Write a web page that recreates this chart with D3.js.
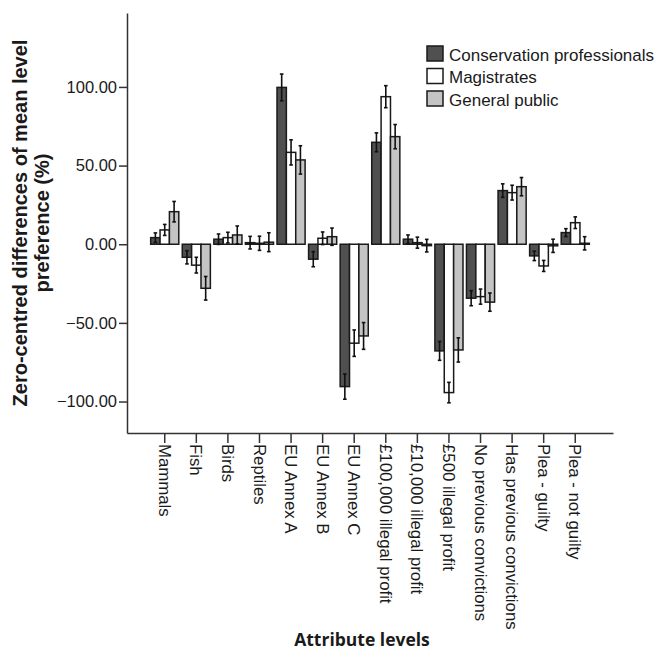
<!DOCTYPE html>
<html>
<head>
<meta charset="utf-8">
<script src="https://cdn.jsdelivr.net/npm/d3@7"></script>
<style>
  html, body { margin: 0; padding: 0; background: #fff; }
  svg { display: block; }
  text { font-family: "Liberation Sans", Arial, sans-serif; fill: #1a1a1a; }
</style>
</head>
<body>
<svg id="chart" width="654" height="653"></svg>
<script>
// Attribute levels on the x axis
const categories = [
  "Mammals", "Fish", "Birds", "Reptiles",
  "EU Annex A", "EU Annex B", "EU Annex C",
  "£100,000 illegal profit", "£10,000 illegal profit", "£500 illegal profit",
  "No previous convictions", "Has previous convictions",
  "Plea - guilty", "Plea - not guilty"
];

// Respondent groups
const groups = ["Conservation professionals", "Magistrates", "General public"];

// Zero-centred differences of mean level preference (%) per group
const conservation = [4.2, -8.3, 3.2, 1.0, 99.7, -9.5, -90.5, 64.8, 3.2, -67.8, -34.3, 34.1, -7.4, 7.4];
const magistrates  = [9.1, -13.3, 4.2, 0.6, 58.4, 3.8, -62.9, 93.8, 1.0, -94.3, -33.3, 32.8, -13.8, 13.7];
const generalPublic = [20.7, -28.0, 5.9, 1.3, 53.6, 4.8, -58.3, 68.4, -0.9, -67.2, -36.8, 36.6, -1.0, 0.6];

// Error bar half-widths (same units)
const conservationErr = [3.0, 4.2, 3.3, 4.0, 8.5, 4.8, 8.0, 6.0, 2.7, 6.0, 4.8, 4.3, 3.0, 2.5];
const magistratesErr  = [3.5, 5.0, 3.4, 4.5, 8.0, 4.0, 8.4, 7.0, 3.5, 6.5, 4.8, 4.7, 3.5, 3.7];
const generalPublicErr = [6.5, 7.5, 5.7, 6.0, 9.0, 5.5, 8.5, 7.7, 4.0, 7.7, 5.8, 5.8, 4.2, 4.2];

// Y axis ticks
const yTicks = [-100, -50, 0, 50, 100];

const seriesValues = [conservation, magistrates, generalPublic];
const seriesErrors = [conservationErr, magistratesErr, generalPublicErr];
const fills = ["#505050", "#ffffff", "#c4c4c4"];

const rows = [];
categories.forEach((c, i) => {
  groups.forEach((g, j) => {
    rows.push({ category: c, group: g, value: seriesValues[j][i], err: seriesErrors[j][i] });
  });
});

const svg = d3.select("#chart");
const plot = { left: 127, right: 613, top: 13, bottom: 433 };

const x = d3.scaleBand()
  .domain(categories)
  .range([plot.left, plot.right])
  .paddingInner(0.11)
  .paddingOuter(0.75);

const xSub = d3.scaleBand()
  .domain(groups)
  .range([0, x.bandwidth()])
  .padding(0);

const y = d3.scaleLinear()
  .domain([-120, 147])
  .range([plot.bottom, plot.top]);

const color = d3.scaleOrdinal().domain(groups).range(fills);

// Bars
const barG = svg.append("g");
barG.selectAll("rect")
  .data(rows)
  .join("rect")
  .attr("x", d => x(d.category) + xSub(d.group))
  .attr("width", xSub.bandwidth())
  .attr("y", d => Math.min(y(d.value), y(0)))
  .attr("height", d => Math.abs(y(d.value) - y(0)))
  .attr("fill", d => color(d.group))
  .attr("stroke", "#1a1a1a")
  .attr("stroke-width", 1.5);

// Error bars
const errG = svg.append("g").attr("stroke", "#111").attr("stroke-width", 1.6);
rows.forEach(d => {
  const cx = x(d.category) + xSub(d.group) + xSub.bandwidth() / 2;
  const y1 = y(d.value + d.err), y2 = y(d.value - d.err);
  errG.append("line").attr("x1", cx).attr("x2", cx).attr("y1", y1).attr("y2", y2);
  errG.append("line").attr("x1", cx - 1.8).attr("x2", cx + 1.8).attr("y1", y1).attr("y2", y1);
  errG.append("line").attr("x1", cx - 1.8).attr("x2", cx + 1.8).attr("y1", y2).attr("y2", y2);
});

// Y axis
const yAxis = svg.append("g")
  .attr("transform", `translate(${plot.left},0)`)
  .call(d3.axisLeft(y).tickValues(yTicks).tickFormat(d3.format(".2f")).tickSize(8).tickPadding(2).tickSizeOuter(0));
yAxis.select(".domain").attr("stroke", "#333").attr("stroke-width", 1.5);
yAxis.selectAll(".tick line").attr("stroke", "#333").attr("stroke-width", 1.5);
yAxis.selectAll(".tick text").attr("font-size", 16.5).attr("font-family", "Liberation Sans, Arial, sans-serif").attr("fill", "#1a1a1a");

// X axis
const xAxis = svg.append("g")
  .attr("transform", `translate(0,${plot.bottom})`)
  .call(d3.axisBottom(x).tickSize(10).tickSizeOuter(0));
xAxis.select(".domain").attr("stroke", "#333").attr("stroke-width", 1.5);
xAxis.selectAll(".tick line").attr("stroke", "#333").attr("stroke-width", 1.5);
xAxis.selectAll(".tick text")
  .attr("font-size", 16.8)
  .attr("font-family", "Liberation Sans, Arial, sans-serif")
  .attr("fill", "#1a1a1a")
  .attr("transform", "rotate(90)")
  .attr("text-anchor", "start")
  .attr("x", 11)
  .attr("y", 0)
  .attr("dy", "0.35em");

// Y axis title (two lines)
const yTitle = svg.append("text")
  .attr("transform", `translate(27,223) rotate(-90)`)
  .attr("text-anchor", "middle")
  .attr("font-size", 20)
  .attr("font-weight", "bold");
yTitle.append("tspan").attr("x", 0).attr("y", 0).text("Zero-centred differences of mean level");
yTitle.append("tspan").attr("x", 0).attr("y", 22).text("preference (%)");

// X axis title
svg.append("text")
  .attr("x", 362)
  .attr("y", 646)
  .attr("text-anchor", "middle")
  .attr("font-size", 17.5)
  .attr("font-weight", "bold")
  .style("font-family", "'Open Sans', sans-serif")
  .text("Attribute levels");

// Legend
const legend = svg.append("g").attr("transform", "translate(427,46)");
groups.forEach((g, i) => {
  const row = legend.append("g").attr("transform", `translate(0,${i * 22.5})`);
  row.append("rect")
    .attr("width", 16).attr("height", 15)
    .attr("fill", fills[i])
    .attr("stroke", "#1a1a1a").attr("stroke-width", 1.5);
  row.append("text")
    .attr("x", 22).attr("y", 14.5)
    .attr("font-size", 17)
    .text(g);
});
</script>
</body>
</html>
